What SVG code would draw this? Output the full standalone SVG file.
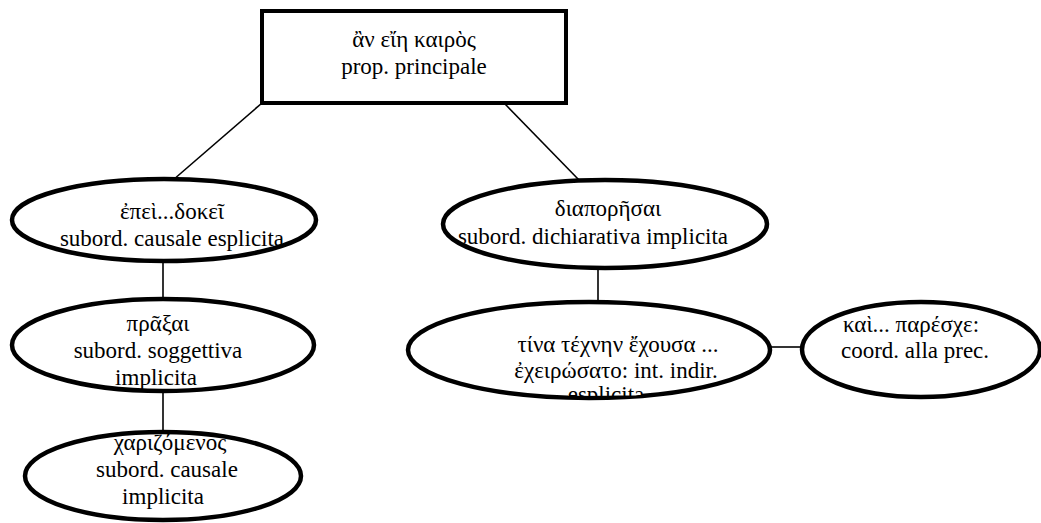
<svg xmlns="http://www.w3.org/2000/svg" width="1041" height="523" viewBox="0 0 1041 523">
<style>
.box{fill:#fff;stroke:#000;stroke-width:4}
.ell{fill:#fff;stroke:#000;stroke-width:4.5}
.con line{stroke:#000;stroke-width:1.6}
text{font-family:"Liberation Serif","DejaVu Serif",serif;font-size:23px;fill:#000;text-anchor:middle}
</style>
<defs>
<clipPath id="clip4"><rect x="400" y="300" width="400" height="96.5"/></clipPath>
</defs>
<rect width="1041" height="523" fill="#fff"/>
<g id="connectors" class="con">
<line x1="262" y1="103" x2="173" y2="180"/>
<line x1="505" y1="104" x2="579" y2="180"/>
<line x1="163" y1="262" x2="163" y2="299"/>
<line x1="163" y1="392" x2="163" y2="431"/>
<line x1="598" y1="268" x2="598" y2="302"/>
<line x1="770" y1="347" x2="802" y2="347"/>
</g>
<g id="n-main">
<rect class="box" x="262" y="11" width="304" height="92"/>
<text x="414" y="47">ἂν εἴη καιρὸς</text>
<text x="414" y="74">prop. principale</text>
</g>
<g id="n-causale">
<ellipse class="ell" cx="164" cy="220" rx="152" ry="41"/>
<text x="172" y="219">ἐπεὶ...δοκεῖ</text>
<text x="172" y="246">subord. causale esplicita</text>
</g>
<g id="n-dichiarativa">
<ellipse class="ell" cx="605" cy="224" rx="162" ry="44"/>
<text x="608" y="216">διαπορῆσαι</text>
<text x="593" y="244">subord. dichiarativa implicita</text>
</g>
<g id="n-soggettiva">
<ellipse class="ell" cx="163" cy="345" rx="151" ry="46"/>
<text x="158" y="331">πρᾶξαι</text>
<text x="158" y="358">subord. soggettiva</text>
<text x="156" y="385">implicita</text>
</g>
<g id="n-interrogativa">
<ellipse class="ell" cx="589" cy="350" rx="181" ry="48"/>
<rect x="568" y="383" width="74" height="12.5" fill="#fff"/>
<text x="618" y="352">τίνα τέχνην ἔχουσα ...</text>
<text x="616" y="378">ἐχειρώσατο: int. indir.</text>
<text x="606" y="402" clip-path="url(#clip4)">esplicita</text>
</g>
<g id="n-coord">
<ellipse class="ell" cx="921" cy="349.5" rx="119" ry="47.5"/>
<text x="911" y="332">καὶ... παρέσχε:</text>
<text x="915" y="358">coord. alla prec.</text>
</g>
<g id="n-causale-impl">
<ellipse class="ell" cx="163" cy="476" rx="138" ry="44"/>
<text x="170" y="450">χαριζόμενος</text>
<text x="167" y="477">subord. causale</text>
<text x="163" y="504">implicita</text>
</g>
</svg>
